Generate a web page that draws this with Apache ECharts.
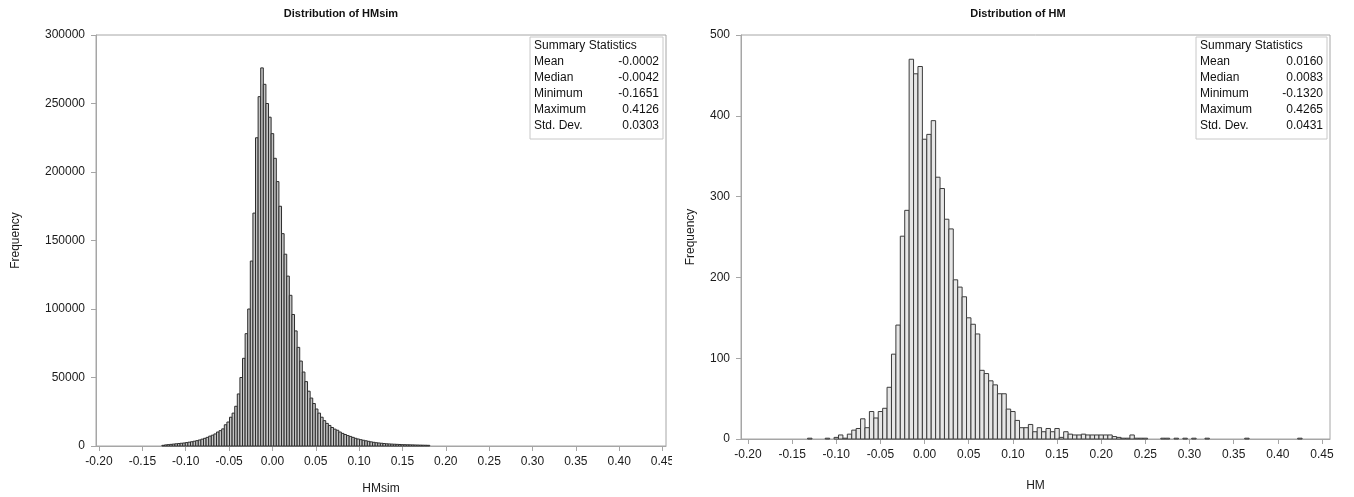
<!DOCTYPE html>
<html>
<head>
<meta charset="utf-8">
<script src="https://cdn.jsdelivr.net/npm/echarts@6/dist/echarts.min.js"></script>
<style>
  html, body { margin: 0; padding: 0; background: #fff; }
  #chart { width: 1354px; height: 497px; }
</style>
</head>
<body>
<div id="chart"></div>
<script>
// tick labels shared by both x axes
const xTicks = [-0.20, -0.15, -0.10, -0.05, 0.00, 0.05, 0.10, 0.15, 0.20, 0.25, 0.30, 0.35, 0.40, 0.45];

// HMsim histogram: bins of 0.003 centred on multiples of 0.003, first centre -0.126
const simFirstMid = -0.126;
const simBinWidth = 0.003;
const simCounts = [
  500, 800, 1000, 1200, 1400, 1600, 1800, 2000, 2200, 2500,
  2800, 3100, 3500, 3900, 4400, 5000, 5600, 6300, 7200, 7900,
  8800, 10200, 11200, 12500, 15500, 17500, 21000, 24000, 29000, 38000,
  50000, 64000, 82000, 100000, 135000, 170000, 225000, 255000, 276000, 264000,
  250000, 240000, 228000, 210000, 193000, 175000, 155000, 140000, 124000, 110000,
  96000, 84000, 72000, 62000, 54000, 47000, 40000, 35000, 31000, 27000,
  24000, 21000, 18500, 16500, 15000, 13500, 12300, 11500, 10200, 9200,
  8400, 7600, 7000, 6300, 5600, 5100, 4600, 4200, 3800, 3400,
  3000, 2700, 2400, 2200, 2000, 1800, 1600, 1500, 1400, 1300,
  1200, 1100, 1000, 950, 900, 850, 800, 750, 700, 650,
  600, 550, 500
];

// HM histogram: bins of 0.005 centred on multiples of 0.005, first centre -0.130
const hmFirstMid = -0.130;
const hmBinWidth = 0.005;
const hmCounts = [
  1, 0, 0, 0, 1, 0, 2, 5, 1, 6,
  11, 13, 25, 14, 34, 26, 34, 38, 64, 105,
  141, 251, 283, 470, 452, 461, 371, 377, 394, 324,
  310, 272, 260, 197, 188, 176, 150, 142, 130, 85,
  81, 72, 67, 56, 56, 37, 34, 23, 14, 14,
  18, 9, 14, 9, 13, 9, 13, 2, 9, 6,
  5, 5, 6, 5, 5, 5, 5, 5, 5, 3,
  2, 1, 1, 5, 1, 1, 1, 0, 0, 0,
  1, 1, 0, 1, 0, 1, 0, 1, 0, 0,
  1, 0, 0, 0, 0, 0, 0, 0, 0, 1,
  0, 0, 0, 0, 0, 0, 0, 0, 0, 0,
  0, 1
];

const statNames = ['Mean', 'Median', 'Minimum', 'Maximum', 'Std. Dev.'];
const simStats = ['-0.0002', '-0.0042', '-0.1651', '0.4126', '0.0303'];
const hmStats = ['0.0160', '0.0083', '-0.1320', '0.4265', '0.0431'];

function toBins(firstMid, width, counts) {
  const out = [];
  counts.forEach((c, i) => {
    const mid = firstMid + i * width;
    out.push([mid - width / 2, mid + width / 2, c]);
  });
  return out;
}

// one rect per bin, from bin edges and count through the axes
function histRenderer(fill, stroke) {
  return function (params, api) {
    const n = api.value(2);
    if (!n) return null;
    const top = api.coord([api.value(0), n]);
    const base = api.coord([api.value(1), 0]);
    return {
      type: 'rect',
      shape: { x: top[0], y: top[1], width: base[0] - top[0], height: base[1] - top[1] },
      style: { fill: fill, stroke: stroke, lineWidth: 1 }
    };
  };
}

const textFont = '12px "Liberation Sans", Arial, sans-serif';

function statsBox(x, y, w, values) {
  const kids = [
    { type: 'rect', shape: { x: 0, y: 0, width: w, height: 102 },
      style: { fill: '#fff', stroke: '#c8c8c8', lineWidth: 1 } },
    { type: 'text', x: 4, y: 9, style: { text: 'Summary Statistics', fill: '#111',
      font: textFont, verticalAlign: 'middle' } }
  ];
  statNames.forEach((name, i) => {
    const ty = 25 + i * 15.8;
    kids.push({ type: 'text', x: 4, y: ty, style: { text: name, fill: '#111',
      font: textFont, verticalAlign: 'middle' } });
    kids.push({ type: 'text', x: w - 4, y: ty, style: { text: values[i], fill: '#111',
      font: textFont, align: 'right', verticalAlign: 'middle' } });
  });
  return { type: 'group', x: x, y: y, z: 100, children: kids };
}

const chart = echarts.init(document.getElementById('chart'), null, { renderer: 'canvas' });

const frame = '#a6a6a6';
const labelFont = { color: '#1a1a1a', fontSize: 12, fontFamily: '"Liberation Sans", Arial, sans-serif' };
const titleStyle = { fontSize: 11, fontWeight: 'bold', color: '#111', fontFamily: '"Liberation Sans", Arial, sans-serif' };

function xAxisFor(idx, name, min, max, gap) {
  return {
    gridIndex: idx, type: 'value', min: min, max: max,
    name: name, nameLocation: 'middle', nameGap: gap,
    nameTextStyle: labelFont,
    axisLine: { show: true, onZero: false, lineStyle: { color: frame } },
    axisTick: { show: true, length: 5, lineStyle: { color: frame }, customValues: xTicks },
    axisLabel: Object.assign({ customValues: xTicks, margin: 10, formatter: v => v.toFixed(2) }, labelFont),
    splitLine: { show: false }
  };
}

function yAxisFor(idx, max, interval, gap) {
  return {
    gridIndex: idx, type: 'value', min: 0, max: max, interval: interval,
    name: 'Frequency', nameLocation: 'middle', nameGap: gap,
    nameTextStyle: labelFont,
    axisLine: { show: true, onZero: false, lineStyle: { color: frame } },
    axisTick: { show: true, length: 5, lineStyle: { color: frame } },
    axisLabel: Object.assign({ margin: 11, formatter: v => String(v) }, labelFont),
    splitLine: { show: false }
  };
}

chart.setOption({
  animation: false,
  title: [
    { text: 'Distribution of HMsim', left: 336, top: 3, textAlign: 'center', textStyle: titleStyle },
    { text: 'Distribution of HM', left: 1013, top: 3, textAlign: 'center', textStyle: titleStyle }
  ],
  grid: [
    { left: 96, right: 688, top: 35, bottom: 51, show: true, borderColor: frame, borderWidth: 1,
      outerBoundsMode: 'none' },
    { left: 741, right: 24, top: 35, bottom: 58, show: true, borderColor: frame, borderWidth: 1,
      outerBoundsMode: 'none' }
  ],
  xAxis: [
    xAxisFor(0, 'HMsim', -0.2035, 0.454, 37),
    xAxisFor(1, 'HM', -0.2079, 0.4591, 41)
  ],
  yAxis: [
    yAxisFor(0, 300000, 50000, 74),
    yAxisFor(1, 500, 100, 44)
  ],
  series: [
    { type: 'custom', xAxisIndex: 0, yAxisIndex: 0, renderItem: histRenderer('#c4c4c4', '#2e2e2e'),
      encode: { x: [0, 1], y: 2 }, data: toBins(simFirstMid, simBinWidth, simCounts) },
    { type: 'custom', xAxisIndex: 1, yAxisIndex: 1, renderItem: histRenderer('#e6e6e6', '#3c3c3c'),
      encode: { x: [0, 1], y: 2 }, data: toBins(hmFirstMid, hmBinWidth, hmCounts) }
  ],
  graphic: [
    statsBox(530, 37, 133, simStats),
    statsBox(1196, 37, 131, hmStats),
    // the left panel of the source picture is cut off just past its last tick label
    { type: 'rect', shape: { x: 672, y: 449, width: 14, height: 24 }, style: { fill: '#fff' }, z: 100 }
  ]
});
</script>
</body>
</html>
